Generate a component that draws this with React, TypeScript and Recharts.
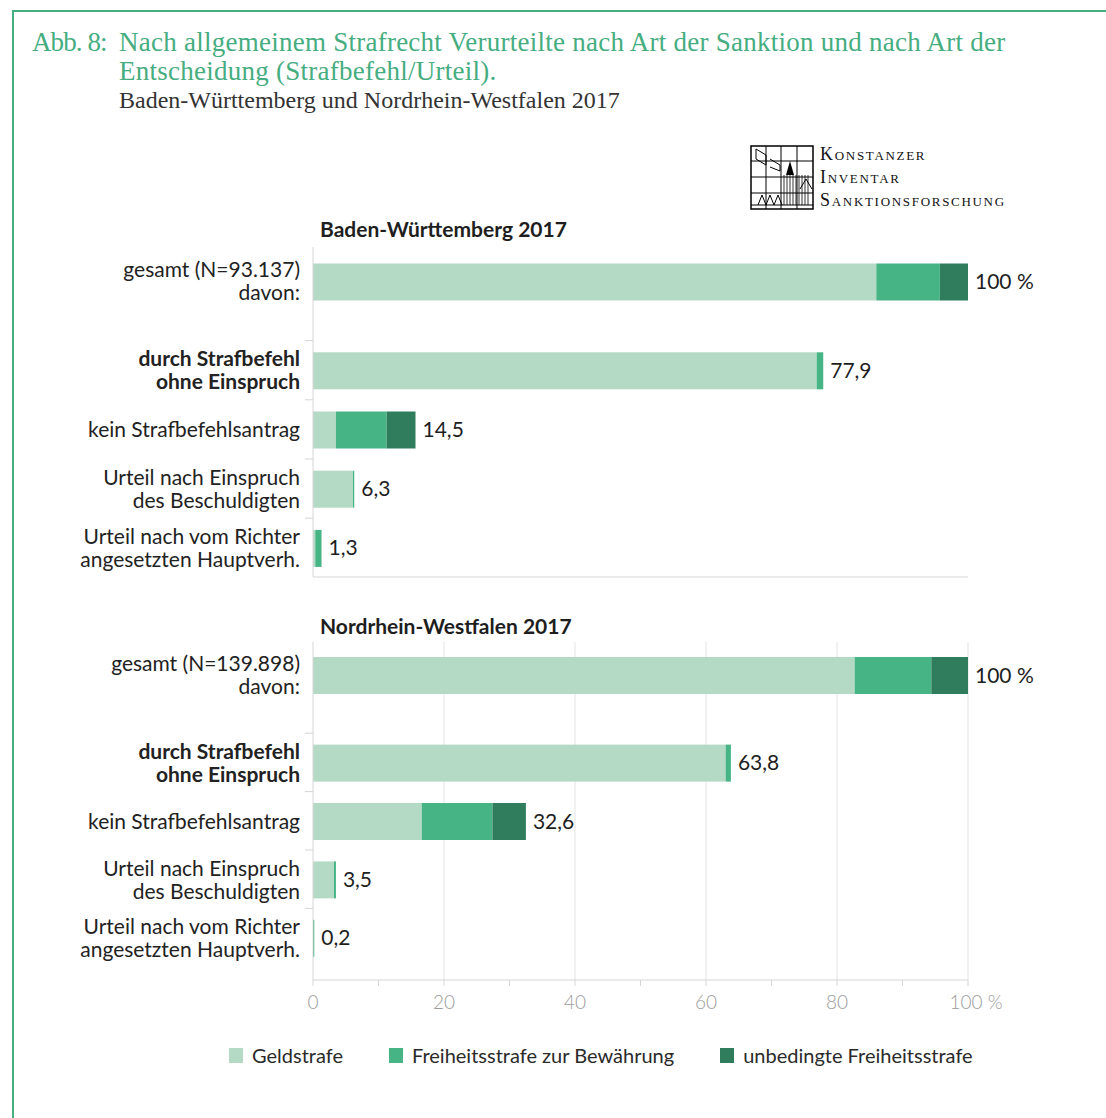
import React from "react";
import { BarChart, Bar, XAxis, YAxis, CartesianGrid, LabelList } from "recharts";

const rowOrder = ["gesamt", "gap1", "gap2", "strafbefehl", "gap3", "kein", "gap4", "einspruch", "gap5", "richter"];
const categories = ["gesamt", "strafbefehl", "kein", "einspruch", "richter"];

const categoryLines: Record<string, string[]> = {
  strafbefehl: ["durch Strafbefehl", "ohne Einspruch"],
  kein: ["kein Strafbefehlsantrag"],
  einspruch: ["Urteil nach Einspruch", "des Beschuldigten"],
  richter: ["Urteil nach vom Richter", "angesetzten Hauptverh."],
};
const boldCategories = ["strafbefehl"];

const seriesKeys = ["geld", "bew", "unb"];
const seriesNames = ["Geldstrafe", "Freiheitsstrafe zur Bewährung", "unbedingte Freiheitsstrafe"];
const seriesColors = ["#b4dac5", "#46b485", "#2f7d5c"];

// Baden-Württemberg 2017 (% of all convicted)
const bwTotal = "gesamt (N=93.137)";
const bwGeld = [86.0, 76.9, 3.5, 6.1, 0.35];
const bwBew = [9.7, 1.0, 7.75, 0.2, 0.95];
const bwUnb = [4.3, 0, 4.4, 0, 0];
const bwValueLabels = ["100 %", "77,9", "14,5", "6,3", "1,3"];

// Nordrhein-Westfalen 2017
const nrwTotal = "gesamt (N=139.898)";
const nrwGeld = [82.7, 63.0, 16.6, 3.2, 0];
const nrwBew = [11.7, 0.8, 10.8, 0.3, 0.2];
const nrwUnb = [5.6, 0, 5.1, 0, 0];
const nrwValueLabels = ["100 %", "63,8", "32,6", "3,5", "0,2"];

const xTicks = [0, 10, 20, 30, 40, 50, 60, 70, 80, 90, 100];
const gridValues = [20, 40, 60, 80, 100];

const FONT = "Lato, 'Open Sans', sans-serif";
const SERIF = "'Liberation Serif', 'DejaVu Serif', serif";
const GREEN = "#46ad80";
const AXIS = "#d6d6d6";
const BAR_THICKNESS = 37;

function buildRows(geld: number[], bew: number[], unb: number[], labels: string[]) {
  return rowOrder.map((row) => {
    const i = categories.indexOf(row);
    const r: any = { row, geld: null, bew: null, unb: null };
    if (i < 0) return r;
    r.geld = geld[i];
    r.bew = bew[i];
    r.unb = unb[i];
    // the value label sits on the last non-empty segment of the row
    const last = unb[i] > 0 ? "unb" : bew[i] > 0 ? "bew" : "geld";
    r["label_" + last] = labels[i];
    return r;
  });
}

function CategoryTick(props: any) {
  const { x, y, payload, totalLabel } = props;
  const key = payload.value as string;
  const lines = key === "gesamt" ? [totalLabel, "davon:"] : categoryLines[key];
  if (!lines) return null;
  const bold = boldCategories.includes(key);
  const lh = 23;
  const start = y - ((lines.length - 1) * lh) / 2;
  return (
    <g>
      {key !== "gesamt" && <line x1={x - 8} x2={x} y1={y - 30} y2={y - 30} stroke={AXIS} />}
      <text
        x={x - 13}
        textAnchor="end"
        fontFamily={FONT}
        fontSize={21}
        fontWeight={bold ? 700 : 400}
        fill="#222"
      >
        {lines.map((l: string, k: number) => (
          <tspan key={k} x={x - 13} y={start + k * lh + 7}>
            {l}
          </tspan>
        ))}
      </text>
    </g>
  );
}

function ValueLabel(props: any) {
  const { x, y, width, height, value } = props;
  if (value == null || value === "") return null;
  return (
    <text x={x + width + 7} y={y + height / 2 + 7} fontFamily={FONT} fontSize={21} fill="#1e1e1e">
      {value}
    </text>
  );
}

function ThickBar(props: any) {
  const { x, y, width, height, fill } = props;
  if (!width || width <= 0) return null;
  return <rect x={x} y={y + height / 2 - BAR_THICKNESS / 2} width={width} height={BAR_THICKNESS} fill={fill} />;
}

function XTick(props: any) {
  const { x, y, payload } = props;
  const v = payload.value as number;
  if (v % 20 !== 0) return null;
  return (
    <text x={v === 100 ? x + 8 : x} y={y + 21} textAnchor="middle" fontFamily={FONT} fontSize={19} fontWeight={300} fill="#9c9c9c">
      {v === 100 ? "100 %" : v}
    </text>
  );
}

function StateChart(props: {
  rows: any[];
  totalLabel: string;
  height: number;
  padTop: number;
  padBottom: number;
  showAxis: boolean;
}) {
  const { rows, totalLabel, height, padTop, padBottom, showAxis } = props;
  return (
    <BarChart
      width={1060}
      height={height}
      data={rows}
      layout="vertical"
      margin={{ top: 0, right: 92, bottom: 0, left: 0 }}
      barCategoryGap={0}
    >
      <CartesianGrid horizontal={false} verticalValues={gridValues} stroke="#e3e3e3" />
      <XAxis
        type="number"
        domain={[0, 100]}
        ticks={xTicks}
        interval={0}
        height={showAxis ? 40 : 2}
        axisLine={{ stroke: AXIS }}
        tickLine={showAxis ? { stroke: AXIS } : false}
        tickSize={6}
        tick={showAxis ? <XTick /> : false}
      />
      <YAxis
        type="category"
        dataKey="row"
        width={313}
        padding={{ top: padTop, bottom: padBottom }}
        axisLine={{ stroke: AXIS }}
        tickLine={false}
        tickSize={0}
        tickMargin={0}
        interval={0}
        tick={(p: any) => <CategoryTick {...p} totalLabel={totalLabel} />}
      />
      {seriesKeys.map((k, i) => (
        <Bar key={k} dataKey={k} stackId="s" fill={seriesColors[i]} shape={<ThickBar />} isAnimationActive={false}>
          <LabelList dataKey={"label_" + k} content={<ValueLabel />} />
        </Bar>
      ))}
    </BarChart>
  );
}

function Logo() {
  return (
    <div style={{ position: "absolute", left: 750, top: 145, display: "flex" }}>
      <svg width={64} height={66}>
        <rect x={1} y={1} width={62} height={63} fill="#fff" stroke="#000" strokeWidth={1.5} />
        {[16, 31, 47].map((v) => (
          <line key={"v" + v} x1={v} x2={v} y1={1} y2={64} stroke="#000" strokeWidth={1} />
        ))}
        {[16, 32, 48].map((v) => (
          <line key={"h" + v} x1={1} x2={63} y1={v} y2={v} stroke="#000" strokeWidth={1} />
        ))}
        <line x1={1} x2={63} y1={60} y2={60} stroke="#000" strokeWidth={1} />
        <polyline points="6,4 16,10 16,20 6,14 6,4" fill="none" stroke="#000" />
        <polyline points="20,14 30,20 30,26 20,22" fill="none" stroke="#000" />
        <polygon points="40,16 44,30 36,30" fill="#000" />
        {[34, 37, 40, 43, 46, 49, 52, 55, 58].map((v) => (
          <line key={"t" + v} x1={v} x2={v} y1={30} y2={60} stroke="#000" strokeWidth={0.8} />
        ))}
        <polyline points="8,60 12,50 16,60 20,50 24,60 28,50 32,60" fill="none" stroke="#000" />
        <polyline points="50,44 56,34 62,44" fill="none" stroke="#000" />
      </svg>
      <div
        style={{
          marginLeft: 6,
          fontFamily: SERIF,
          fontVariant: "small-caps",
          fontSize: 18,
          lineHeight: "23px",
          letterSpacing: 1.7,
          color: "#111",
          marginTop: -2,
        }}
      >
        <div>Konstanzer</div>
        <div>Inventar</div>
        <div>Sanktionsforschung</div>
      </div>
    </div>
  );
}

export default function App() {
  const bwRows = buildRows(bwGeld, bwBew, bwUnb, bwValueLabels);
  const nrwRows = buildRows(nrwGeld, nrwBew, nrwUnb, nrwValueLabels);
  return (
    <div style={{ position: "relative", width: 1106, height: 1118, background: "#fff", overflow: "hidden" }}>
      <style>{`body{margin:0}`}</style>
      <div
        style={{
          position: "absolute",
          left: 12,
          top: 10,
          right: -10,
          bottom: -10,
          borderLeft: `2px solid ${GREEN}`,
          borderTop: `2px solid ${GREEN}`,
        }}
      />
      <div style={{ position: "absolute", left: 32, top: 28, fontFamily: SERIF, fontSize: 27, lineHeight: "29px", letterSpacing: -0.9, color: GREEN }}>
        Abb. 8:
      </div>
      <div style={{ position: "absolute", left: 119, top: 28, fontFamily: SERIF, fontSize: 27, lineHeight: "29px", letterSpacing: 0.25, color: GREEN }}>
        <div>Nach allgemeinem Strafrecht Verurteilte nach Art der Sanktion und nach Art der</div>
        <div>Entscheidung (Strafbefehl/Urteil).</div>
        <div style={{ color: "#333", fontSize: 24, letterSpacing: 0 }}>Baden-Württemberg und Nordrhein-Westfalen 2017</div>
      </div>
      <Logo />

      <div style={{ position: "absolute", left: 320, top: 216, fontFamily: FONT, fontWeight: 700, fontSize: 21, color: "#1e1e1e" }}>
        Baden-Württemberg 2017
      </div>
      <div style={{ position: "absolute", left: 0, top: 247 }}>
        <StateChart rows={bwRows} totalLabel={bwTotal} height={332} padTop={20} padBottom={14} showAxis={false} />
      </div>

      <div style={{ position: "absolute", left: 320, top: 613, fontFamily: FONT, fontWeight: 700, fontSize: 21, color: "#1e1e1e" }}>
        Nordrhein-Westfalen 2017
      </div>
      <div style={{ position: "absolute", left: 0, top: 642 }}>
        <StateChart rows={nrwRows} totalLabel={nrwTotal} height={378} padTop={19} padBottom={27} showAxis={true} />
      </div>

      <div style={{ position: "absolute", left: 229, top: 1043, display: "flex", alignItems: "center", fontFamily: FONT, fontSize: 20, color: "#2a2a2a" }}>
        {seriesNames.map((name, i) => (
          <div key={name} style={{ display: "flex", alignItems: "center", marginRight: 46 }}>
            <div style={{ width: 14, height: 15, background: seriesColors[i], marginRight: 9 }} />
            <span>{name}</span>
          </div>
        ))}
      </div>
    </div>
  );
}
